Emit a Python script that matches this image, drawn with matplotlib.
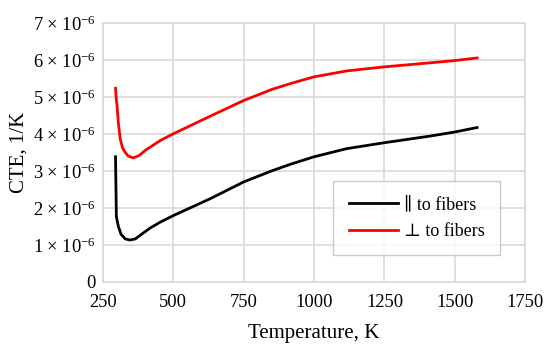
import matplotlib
matplotlib.use('Agg')
import matplotlib.pyplot as plt
from matplotlib.ticker import FixedLocator, FuncFormatter

# Temperature (K) and CTE (x1e-6 1/K)
t_par = [295, 298, 305, 315, 330, 346, 365, 390, 417, 453, 500, 632, 750, 850, 917, 1000, 1116, 1250, 1413, 1500, 1579]
cte_par = [3.38, 1.76, 1.50, 1.28, 1.16, 1.13, 1.16, 1.30, 1.45, 1.61, 1.79, 2.25, 2.70, 3.00, 3.18, 3.38, 3.60, 3.76, 3.94, 4.05, 4.17]

t_perp = [295, 298, 300, 305, 312, 320, 328, 340, 358, 380, 400, 454, 500, 632, 750, 850, 917, 1000, 1116, 1250, 1340, 1413, 1500, 1579]
cte_perp = [5.23, 4.90, 4.80, 4.30, 3.85, 3.62, 3.51, 3.40, 3.35, 3.42, 3.55, 3.82, 4.00, 4.48, 4.90, 5.20, 5.36, 5.54, 5.70, 5.81, 5.87, 5.92, 5.98, 6.05]

x_ticks = [250, 500, 750, 1000, 1250, 1500, 1750]
y_ticks = [0, 1, 2, 3, 4, 5, 6, 7]

plt.rcParams['font.family'] = ['Liberation Serif', 'DejaVu Serif']
plt.rcParams['mathtext.fontset'] = 'custom'
plt.rcParams['mathtext.rm'] = 'Liberation Serif'
plt.rcParams['mathtext.it'] = 'Liberation Serif:italic'

fig = plt.figure(figsize=(5.5, 3.51), dpi=100)
ax = fig.add_axes([0.187, 0.197, 0.768, 0.738])

ax.plot(t_par, [v * 1e-6 for v in cte_par], color='black', lw=2, label='\u2225 to fibers')
ax.plot(t_perp, [v * 1e-6 for v in cte_perp], color='#ff0000', lw=2, label='\u22a5 to fibers')

ax.set_xlim(250, 1750)
ax.set_ylim(0, 7e-6)
ax.xaxis.set_major_locator(FixedLocator(x_ticks))
ax.yaxis.set_major_locator(FixedLocator([v * 1e-6 for v in y_ticks]))


def fmt_y(val, pos):
    n = round(val * 1e6)
    if n == 0:
        return '0'
    return '%d \u00d7 10$^{-6}$' % n


ax.yaxis.set_major_formatter(FuncFormatter(fmt_y))
ax.grid(True, color='#d9d9d9', lw=1.2)
ax.set_axisbelow(True)
for s in ax.spines.values():
    s.set_color('#d9d9d9')
    s.set_linewidth(1.2)
ax.tick_params(length=0, labelsize=13.3)
ax.tick_params(axis='x', pad=9)
ax.tick_params(axis='y', pad=5)

ax.set_xlabel('Temperature, K', fontsize=15, labelpad=9)
ax.set_ylabel('CTE, 1/K', fontsize=15, labelpad=3)

leg = ax.legend(loc='upper left', bbox_to_anchor=(0.546, 0.39), fontsize=13,
                frameon=True, fancybox=False, edgecolor='#bfbfbf',
                handlelength=2.7, handletextpad=0.35, borderpad=0.85,
                labelspacing=0.55, borderaxespad=0)
leg.get_frame().set_linewidth(1.0)

fig.savefig('out.png', dpi=100)
